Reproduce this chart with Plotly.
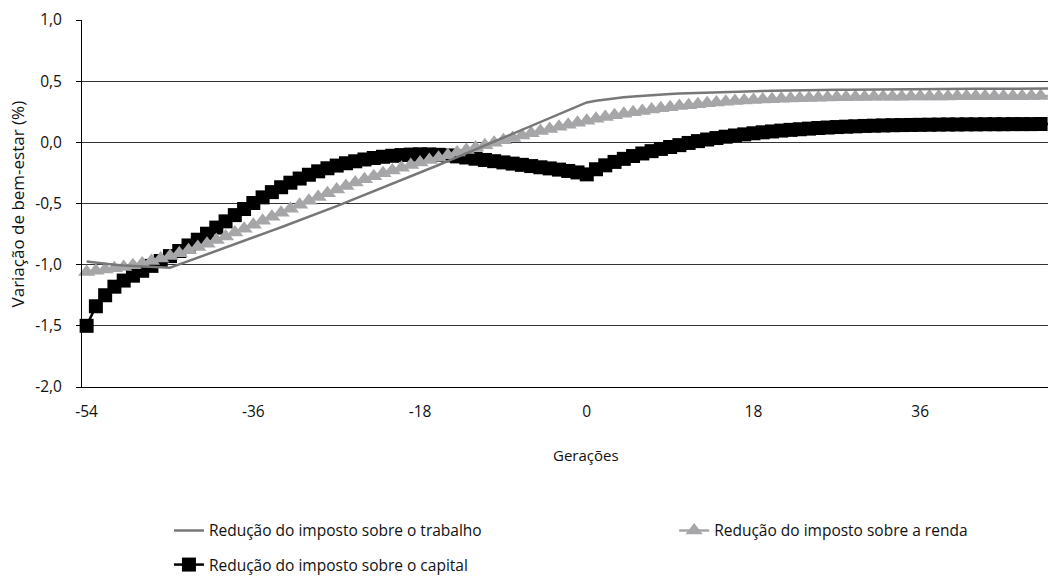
import plotly.graph_objects as go

# Generations relative to the reform (category axis)
generations = list(range(-54, 51))

# Welfare change (%) for each scenario
reducao_trabalho = [
    -0.975, -0.985, -0.993, -1.000, -1.006, -1.011, -1.016, -1.020, -1.023, -1.025,
    -0.998, -0.971, -0.944, -0.916, -0.889, -0.861, -0.834, -0.806, -0.778, -0.750,
    -0.722, -0.694, -0.666, -0.637, -0.608, -0.579, -0.550, -0.521, -0.491, -0.461,
    -0.431, -0.401, -0.371, -0.340, -0.309, -0.278, -0.247, -0.216, -0.185, -0.154,
    -0.122, -0.090, -0.058, -0.026, 0.006, 0.038, 0.070, 0.102, 0.134, 0.166,
    0.198, 0.230, 0.262, 0.294, 0.326,
    0.340, 0.351, 0.360, 0.368, 0.375, 0.381, 0.386, 0.391, 0.395, 0.399,
    0.402, 0.405, 0.408, 0.410, 0.412, 0.414, 0.416, 0.418, 0.420, 0.421,
    0.423, 0.424, 0.425, 0.426, 0.427, 0.428, 0.429, 0.430, 0.431, 0.432,
    0.433, 0.433, 0.434, 0.434, 0.435, 0.435, 0.436, 0.436, 0.437, 0.437,
    0.437, 0.438, 0.438, 0.438, 0.439, 0.439, 0.439, 0.440, 0.440, 0.440,
]

reducao_renda = [
    -1.060, -1.050, -1.040, -1.030, -1.020, -1.005, -0.990, -0.970, -0.950, -0.930,
    -0.907, -0.882, -0.856, -0.828, -0.799, -0.769, -0.738, -0.706, -0.674, -0.641,
    -0.608, -0.575, -0.542, -0.510, -0.478, -0.447, -0.416, -0.386, -0.357, -0.329,
    -0.302, -0.277, -0.253, -0.230, -0.208, -0.186, -0.165, -0.145, -0.125, -0.105,
    -0.084, -0.063, -0.043, -0.023, -0.003, 0.017, 0.036, 0.055, 0.074, 0.092,
    0.110, 0.127, 0.144, 0.160, 0.176,
    0.192, 0.207, 0.221, 0.234, 0.246, 0.257, 0.268, 0.278, 0.287, 0.296,
    0.304, 0.312, 0.319, 0.326, 0.332, 0.337, 0.342, 0.346, 0.350, 0.353,
    0.356, 0.359, 0.361, 0.363, 0.365, 0.367, 0.368, 0.369, 0.370, 0.371,
    0.372, 0.372, 0.373, 0.373, 0.374, 0.374, 0.375, 0.375, 0.375, 0.376,
    0.376, 0.376, 0.376, 0.377, 0.377, 0.377, 0.377, 0.378, 0.378, 0.378,
]

reducao_capital = [
    -1.500, -1.340, -1.250, -1.180, -1.130, -1.090, -1.050, -1.010, -0.970, -0.930,
    -0.888, -0.843, -0.796, -0.747, -0.697, -0.646, -0.595, -0.545, -0.496, -0.450,
    -0.407, -0.367, -0.330, -0.296, -0.265, -0.237, -0.212, -0.190, -0.171, -0.155,
    -0.140, -0.128, -0.118, -0.110, -0.104, -0.100, -0.098, -0.099, -0.102, -0.107,
    -0.115, -0.124, -0.134, -0.144, -0.154, -0.164, -0.174, -0.184, -0.194, -0.204,
    -0.213, -0.223, -0.234, -0.246, -0.262,
    -0.220, -0.188, -0.160, -0.135, -0.112, -0.091, -0.072, -0.054, -0.038, -0.023,
    -0.005, 0.010, 0.023, 0.035, 0.046, 0.056, 0.065, 0.074, 0.082, 0.089,
    0.096, 0.102, 0.107, 0.112, 0.117, 0.121, 0.125, 0.128, 0.131, 0.134,
    0.136, 0.138, 0.140, 0.141, 0.142, 0.143, 0.144, 0.145, 0.146, 0.146,
    0.147, 0.147, 0.148, 0.148, 0.148, 0.149, 0.149, 0.149, 0.150, 0.150,
]

x_tick_vals = [-54, -36, -18, 0, 18, 36]
x_tick_text = ["-54", "-36", "-18", "0", "18", "36"]
y_tick_vals = [-2.0, -1.5, -1.0, -0.5, 0.0, 0.5, 1.0]
y_tick_text = ["-2,0", "-1,5", "-1,0", "-0,5", "0,0", "0,5", "1,0"]

FONT = "Open Sans"
TEXT = "#111111"

fig = go.Figure()

fig.add_trace(go.Scatter(
    x=generations, y=reducao_capital, mode="lines+markers",
    name="Redução do imposto sobre o capital",
    line=dict(color="#000000", width=2.5),
    marker=dict(symbol="square", size=14, color="#000000"),
    cliponaxis=False, legend="legend3",
))
fig.add_trace(go.Scatter(
    x=generations, y=reducao_renda, mode="lines+markers",
    name="Redução do imposto sobre a renda",
    line=dict(color="#a6a6a8", width=2.5),
    marker=dict(symbol="triangle-up", size=15, color="#a6a6a8"),
    cliponaxis=False, legend="legend2",
))
fig.add_trace(go.Scatter(
    x=generations, y=reducao_trabalho, mode="lines",
    name="Redução do imposto sobre o trabalho",
    line=dict(color="#777777", width=2.5),
    legend="legend",
))

legend_common = dict(
    xanchor="left", yanchor="middle", bgcolor="rgba(0,0,0,0)",
    borderwidth=0,
    font=dict(family=FONT, size=15.5, color=TEXT),
)

fig.update_layout(
    width=1048, height=577,
    margin=dict(l=82, r=0, t=20, b=190, autoexpand=False),
    paper_bgcolor="white", plot_bgcolor="white",
    font=dict(family=FONT, size=15, color=TEXT),
    showlegend=True,
    legend=dict(x=0.090, y=-0.392, **legend_common),
    legend2=dict(x=0.613, y=-0.392, **legend_common),
    legend3=dict(x=0.090, y=-0.485, **legend_common),
    xaxis=dict(
        range=[-54.5, 49.8], tickmode="array",
        tickvals=x_tick_vals, ticktext=x_tick_text,
        showgrid=False, zeroline=False,
        showline=True, linecolor="#000000", linewidth=1,
        ticks="", ticklabelstandoff=10,
        tickfont=dict(family=FONT, size=15.5, color=TEXT),
    ),
    yaxis=dict(
        range=[-2.0, 1.0], tickmode="array",
        tickvals=y_tick_vals, ticktext=y_tick_text,
        showgrid=True, gridcolor="#333333", gridwidth=1, zeroline=False,
        showline=True, linecolor="#000000", linewidth=1,
        ticks="outside", ticklen=5, tickcolor="#000000",
        ticklabelstandoff=11,
        tickfont=dict(family=FONT, size=15.5, color=TEXT),
    ),
    annotations=[
        dict(text="Variação de bem-estar (%)", textangle=-90,
             xref="paper", yref="paper", x=-0.0663, y=0.5,
             xanchor="center", yanchor="middle", showarrow=False,
             font=dict(family=FONT, size=17, color=TEXT)),
        dict(text="Gerações",
             xref="paper", yref="paper", x=0.5217, y=-0.1853,
             xanchor="center", yanchor="middle", showarrow=False,
             font=dict(family=FONT, size=15, color=TEXT)),
    ],
)

fig.write_html("out.html")
